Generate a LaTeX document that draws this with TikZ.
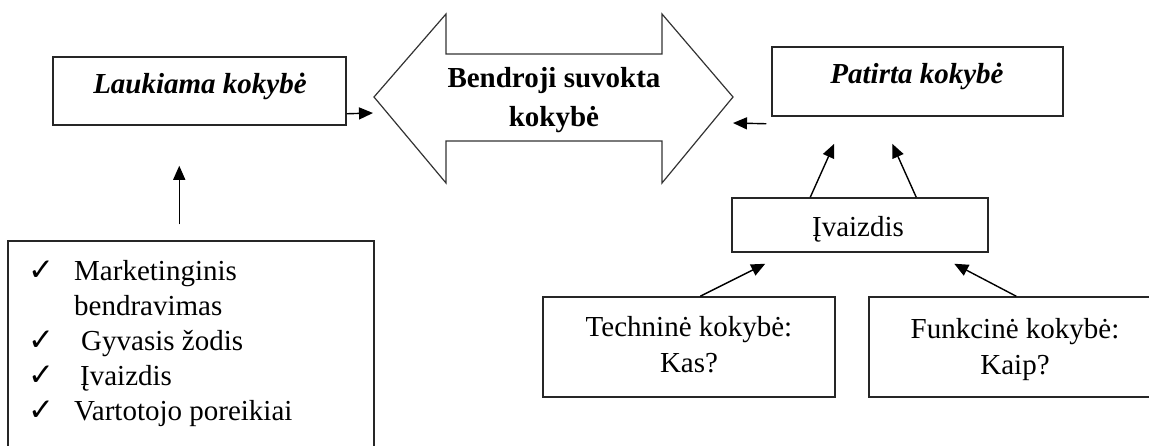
\documentclass[tikz,border=0pt]{standalone}
\usepackage{fontspec}
\setmainfont{Liberation Serif}
\newfontfamily\symfont{DejaVu Sans}
\usetikzlibrary{arrows.meta,calc}
\newcommand{\chk}{\makebox[46pt][l]{\symfont\fontsize{31}{31}\selectfont ✓}}
\begin{document}
\begin{tikzpicture}[x=1pt,y=-1pt,
  frame/.style={draw=black!85,line width=1.5pt,inner sep=0pt},
  txt/.style={inner sep=0pt,anchor=base,font=\fontsize{29}{36}\selectfont},
  conn/.style={line width=1.4pt,-{Triangle[length=14pt,width=12pt]}},
  bigarrow/.style={draw=black!80,line width=1.2pt,line join=miter},
]
\useasboundingbox (0,0) rectangle (1149,445);

% boxes
\node[frame,minimum width=293pt,minimum height=68pt]  (lk)  at (199.5,91)  {};
\node[frame,minimum width=291pt,minimum height=69pt]  (pk)  at (917.5,81.5) {};
\node[frame,minimum width=256pt,minimum height=54pt]  (iv)  at (860,225)   {};
\node[frame,minimum width=292pt,minimum height=100pt] (tk)  at (689,347)   {};
\node[frame,minimum width=292pt,minimum height=100pt] (fk)  at (1015,347)  {};
\node[frame,minimum width=366pt,minimum height=240pt] (lst) at (191,361)   {};

% the double-headed arrow in the middle
\coordinate (bdW) at (374,97);
\coordinate (bdE) at (733,97);
\draw[bigarrow] (bdW) -- (446,14) -- (446,54) -- (662,54) -- (662,14) -- (bdE)
  -- (662,183) -- (662,141) -- (446,141) -- (446,183) -- cycle;

% texts
\node[txt,font=\fontsize{29}{36}\selectfont\bfseries\itshape] (lkt) at (200,93) {Laukiama kokybė};
\node[txt,font=\fontsize{29}{36}\selectfont\bfseries\itshape] (pkt) at (917,83) {Patirta kokybė};
\node[txt,font=\fontsize{29}{39}\selectfont\bfseries] (bdt) at (554,87)
  {\begin{tabular}[t]{@{}c@{}}Bendroji suvokta\\kokybė\end{tabular}};
\node[txt] (ivt) at (858,236) {Įvaizdis};
\node[txt] (tkt) at (689,336)
  {\begin{tabular}[t]{@{}c@{}}Techninė kokybė:\\Kas?\end{tabular}};
\node[txt] (fkt) at (1015,338)
  {\begin{tabular}[t]{@{}c@{}}Funkcinė kokybė:\\Kaip?\end{tabular}};
\node[txt,anchor=base west,font=\fontsize{29}{35}\selectfont] (lstt) at (28,280)
  {\begin{tabular}[t]{@{}l@{}l@{}}
   \chk & Marketinginis\\
        & bendravimas\\
   \chk & \hspace{7pt}Gyvasis žodis\\
   \chk & \hspace{6pt}Įvaizdis\\
   \chk & Vartotojo poreikiai
   \end{tabular}};

% connectors
\draw[conn] ($(lst.north west)+(172,-16)$) -- ($(lk.south west)+(127,40)$);
\draw[conn] ($(lk.south east)+(0,-12)$) -- ($(bdW)+(-1,16)$);
\draw[conn] ($(pk.south west)+(-5,7)$) -- ($(bdE)+(0,26)$);
\draw[conn] ($(iv.north west)+(79,0)$) -- ($(pk.south west)+(63,27)$);
\draw[conn] ($(iv.north west)+(185,0)$) -- ($(pk.south west)+(121,27)$);
\draw[conn] ($(tk.north west)+(158,0)$) -- ($(iv.south west)+(34,11)$);
\draw[conn] ($(fk.north west)+(148,0)$) -- ($(iv.south west)+(223,11)$);
\end{tikzpicture}
\end{document}
